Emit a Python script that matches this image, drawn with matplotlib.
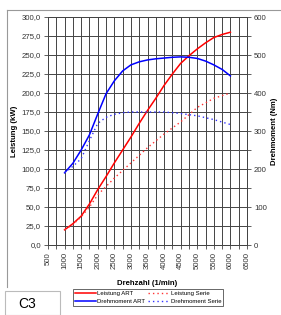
import matplotlib
matplotlib.use("Agg")
import matplotlib.pyplot as plt
from matplotlib.lines import Line2D
from matplotlib.patches import Rectangle
import numpy as np

plt.rcParams['font.family'] = ['Liberation Sans', 'DejaVu Sans']

# ---- data ----
rpm_art = [1000, 1250, 1500, 1750, 2000, 2250, 2500, 2750, 3000, 3250, 3500,
           3750, 4000, 4250, 4500, 4750, 5000, 5250, 5500, 5750, 6000]
leistung_art = [20, 28, 38, 54, 73, 90, 108, 125, 142, 160, 177,
                193, 210, 225, 239, 249, 258, 266, 273, 277, 280]
drehmoment_art = [190, 215, 250, 290, 345, 398, 432, 458, 474, 482, 487,
                  490, 492, 494, 495, 494, 491, 484, 474, 462, 445]

rpm_serie = [1000, 1250, 1500, 1750, 2000, 2250, 2500, 2750, 3000, 3500,
             4000, 4500, 5000, 5500, 6000]
leistung_serie = [20, 27, 37, 50, 66, 77, 88, 98, 108, 128,
                  146, 162, 181, 193, 200]
drehmoment_serie = [190, 207, 227, 275, 320, 336, 344, 348, 350, 350,
                    350, 346, 340, 330, 317]

x_ticks = list(range(500, 7000, 500))
y_left_ticks = [0, 25, 50, 75, 100, 125, 150, 175, 200, 225, 250, 275, 300]
y_right_ticks = [0, 100, 200, 300, 400, 500, 600]

W, H = 281, 315
fig = plt.figure(figsize=(W / 100, H / 100), dpi=100)
fig.patch.set_facecolor('white')

ax = fig.add_axes([48 / W, 1 - 245 / H, (247 - 48) / W, (245 - 17) / H])
ax2 = ax.twinx()

fs = 5.6
dot = (0, (1, 2.2))
# grid
for xv in np.arange(500, 6501, 250):
    ax.axvline(xv, color='#444444', lw=0.7, zorder=0)
for yv in np.arange(0, 301, 25):
    ax.axhline(yv, color='#444444', lw=0.7, zorder=0)

ax.plot(rpm_art, leistung_art, color='#ff0000', lw=1.1, zorder=3)
ax.plot(rpm_serie, leistung_serie, color='#ff3333', lw=1.0, ls=dot, zorder=3)
ax2.plot(rpm_art, drehmoment_art, color='#0000ff', lw=1.1, zorder=3)
ax2.plot(rpm_serie, drehmoment_serie, color='#3333ff', lw=1.0, ls=dot, zorder=3)

ax.set_xlim(500, 6500)
ax.set_ylim(0, 300)
ax2.set_ylim(0, 600)

ax.set_xticks(x_ticks)
ax.set_xticklabels([str(v) for v in x_ticks], rotation=90, fontsize=fs)
ax.set_xticks(np.arange(500, 6501, 250), minor=True)
ax.set_yticks(y_left_ticks)
ax.set_yticklabels([f"{v:.1f}".replace('.', ',') for v in y_left_ticks], fontsize=fs)
ax2.set_yticks(y_right_ticks)
ax2.set_yticklabels([str(v) for v in y_right_ticks], fontsize=fs)
ax2.set_yticks(np.arange(0, 601, 50), minor=True)

for a in (ax, ax2):
    a.tick_params(length=3, width=0.6, pad=2, color='#444444', labelcolor='#333333')
    a.tick_params(which='minor', length=3, width=0.6, color='#444444')
    for s in a.spines.values():
        s.set_linewidth(0.7)
        s.set_color('#444444')

ax.set_ylabel('Leistung (kW)', fontsize=fs, fontweight='bold', labelpad=3)
ax2.set_ylabel('Drehmoment (Nm)', fontsize=fs, fontweight='bold', labelpad=3)
ax.set_xlabel('Drehzahl (1/min)', fontsize=fs, fontweight='bold', labelpad=8)

# outer frame
fig.add_artist(Line2D([7 / W, 7 / W], [1 - 10 / H, 1 - 287 / H], color='#999999', lw=0.8))
fig.add_artist(Line2D([7 / W, 1.0], [1 - 10 / H, 1 - 10 / H], color='#999999', lw=0.8))

# C3 box
fig.add_artist(Rectangle((5 / W, 0), 55 / W, 24 / H, transform=fig.transFigure,
                         facecolor='white', edgecolor='#bbbbbb', lw=0.8))
fig.text(27 / W, 1 - 304 / H, 'C3', fontsize=10, ha='center', va='center')

handles = [
    Line2D([], [], color='#ff0000', lw=1.1),
    Line2D([], [], color='#0000ff', lw=1.1),
    Line2D([], [], color='#ff3333', lw=1.0, ls=dot),
    Line2D([], [], color='#3333ff', lw=1.0, ls=dot),
]
labels = ['Leistung ART', 'Drehmoment ART', 'Leistung Serie', 'Drehmoment Serie']
leg = fig.legend(handles, labels, loc='upper left', bbox_to_anchor=(73 / W, 1 - 289 / H),
                 ncol=2, fontsize=4.3, frameon=True, fancybox=False, handlelength=3.6,
                 handletextpad=0.15, columnspacing=0.5, borderpad=0.3, labelspacing=0.5,
                 borderaxespad=0)
leg.get_frame().set_edgecolor('#222222')
leg.get_frame().set_linewidth(0.6)

fig.savefig('out.png', dpi=100)
